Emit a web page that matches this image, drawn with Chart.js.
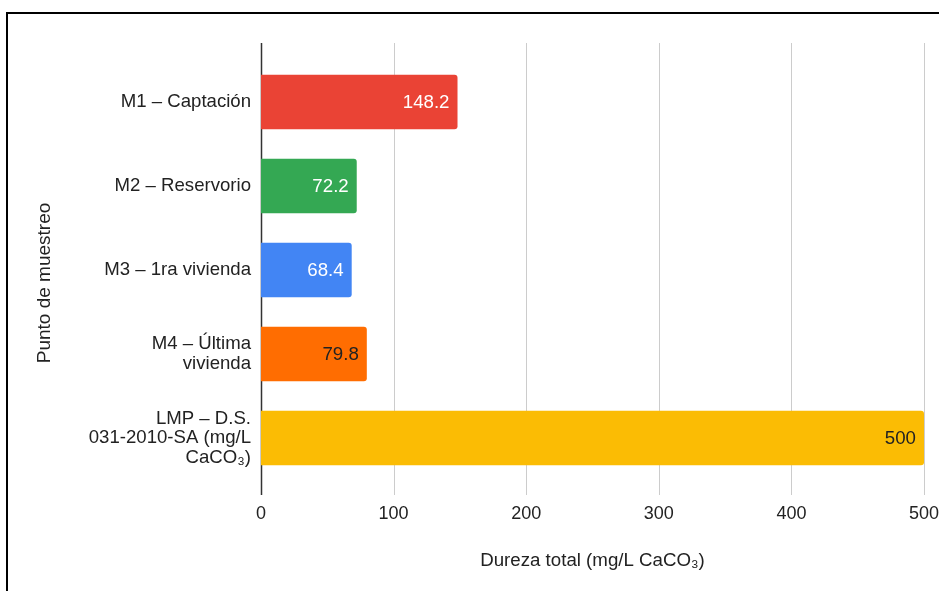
<!DOCTYPE html>
<html>
<head>
<meta charset="utf-8">
<script src="https://cdn.jsdelivr.net/npm/chart.js@4.4.1/dist/chart.umd.min.js"></script>
<style>
  html, body { margin:0; padding:0; background:#fff; }
  #wrap { position:relative; width:939px; height:591px; }
  #frame { position:absolute; left:6px; top:12px; right:-10px; bottom:-10px;
           border-top:2px solid #000; border-left:2px solid #000; pointer-events:none; }
  canvas { position:absolute; left:0; top:0; }
</style>
</head>
<body>
<div id="wrap">
  <canvas id="chart" width="939" height="591"></canvas>
  <div id="frame"></div>
</div>
<script>
// Datos
const puntos = [
  ["M1 – Captación"],
  ["M2 – Reservorio"],
  ["M3 – 1ra vivienda"],
  ["M4 – Última", "vivienda"],
  ["LMP – D.S.", "031-2010-SA (mg/L", "CaCO₃)"]
];
const dureza = [148.2, 72.2, 68.4, 79.8, 500];
const etiquetas = ["148.2", "72.2", "68.4", "79.8", "500"];
const colores = ["#EA4335", "#34A853", "#4285F4", "#FF6D01", "#FBBC04"];
const coloresTexto = ["#ffffff", "#ffffff", "#ffffff", "#222222", "#222222"];
const ticksX = [0, 100, 200, 300, 400, 500];

const FONT = "'Liberation Sans', Arial, sans-serif";

// grid lines drawn a bit beyond the chart area, like the original
const gridPlugin = {
  id: "grid",
  beforeDatasetsDraw(chart) {
    const {ctx, chartArea, scales} = chart;
    const top = chartArea.top - 17, bottom = chartArea.bottom + 15;
    ctx.save();
    ticksX.forEach(v => {
      const x = Math.round(scales.x.getPixelForValue(v)) + 0.5;
      ctx.beginPath();
      ctx.strokeStyle = v === 0 ? "#333333" : "#cccccc";
      ctx.lineWidth = v === 0 ? 1.5 : 1;
      ctx.moveTo(x, top);
      ctx.lineTo(x, bottom);
      ctx.stroke();
    });
    ctx.restore();
  }
};

// valores dentro de la barra
const labelPlugin = {
  id: "labels",
  afterDatasetsDraw(chart) {
    const {ctx} = chart;
    const meta = chart.getDatasetMeta(0);
    ctx.save();
    ctx.font = "18.7px " + FONT;
    ctx.textAlign = "right";
    ctx.textBaseline = "middle";
    meta.data.forEach((bar, i) => {
      ctx.fillStyle = coloresTexto[i];
      ctx.fillText(etiquetas[i], bar.x - 8, bar.y + 1);
    });
    ctx.restore();
  }
};

// y title drawn by hand to sit where the original has it
const yTitlePlugin = {
  id: "ytitle",
  afterDraw(chart) {
    const {ctx} = chart;
    ctx.save();
    ctx.translate(45, 283);
    ctx.rotate(-Math.PI / 2);
    ctx.font = "19px " + FONT;
    ctx.fillStyle = "#222222";
    ctx.textAlign = "center";
    ctx.textBaseline = "middle";
    ctx.fillText("Punto de muestreo", 0, 0);
    ctx.restore();
  }
};

new Chart(document.getElementById("chart"), {
  type: "bar",
  data: {
    labels: puntos,
    datasets: [{
      data: dureza,
      backgroundColor: colores,
      borderRadius: 3,
      borderSkipped: "start",
      categoryPercentage: 1,
      barPercentage: 0.65
    }]
  },
  options: {
    indexAxis: "y",
    responsive: false,
    animation: false,
    layout: { padding: { left: 30, top: 60, right: 15, bottom: 0 } },
    plugins: { legend: { display: false }, tooltip: { enabled: false } },
    scales: {
      x: {
        min: 0, max: 500,
        afterBuildTicks: s => { s.ticks = ticksX.map(v => ({ value: v })); },
        grid: { display: false, drawTicks: false },
        border: { display: false },
        ticks: { color: "#222", font: { family: FONT, size: 18 }, padding: 23, maxRotation: 0 },
        title: {
          display: true, text: "Dureza total (mg/L CaCO₃)",
          color: "#222", font: { family: FONT, size: 18.7 }, padding: { top: 0, bottom: 19 }
        },
        afterFit: s => { s.height = 111; s.paddingLeft = 0; s.paddingRight = 0; }
      },
      y: {
        grid: { display: false, drawTicks: false },
        border: { display: false },
        ticks: { color: "#222", font: { family: FONT, size: 18.6, lineHeight: 1.05 }, padding: 10 },
        afterFit: s => { s.width = 231; s.paddingTop = 0; s.paddingBottom = 0; }
      }
    }
  },
  plugins: [gridPlugin, labelPlugin, yTitlePlugin]
});
</script>
</body>
</html>
